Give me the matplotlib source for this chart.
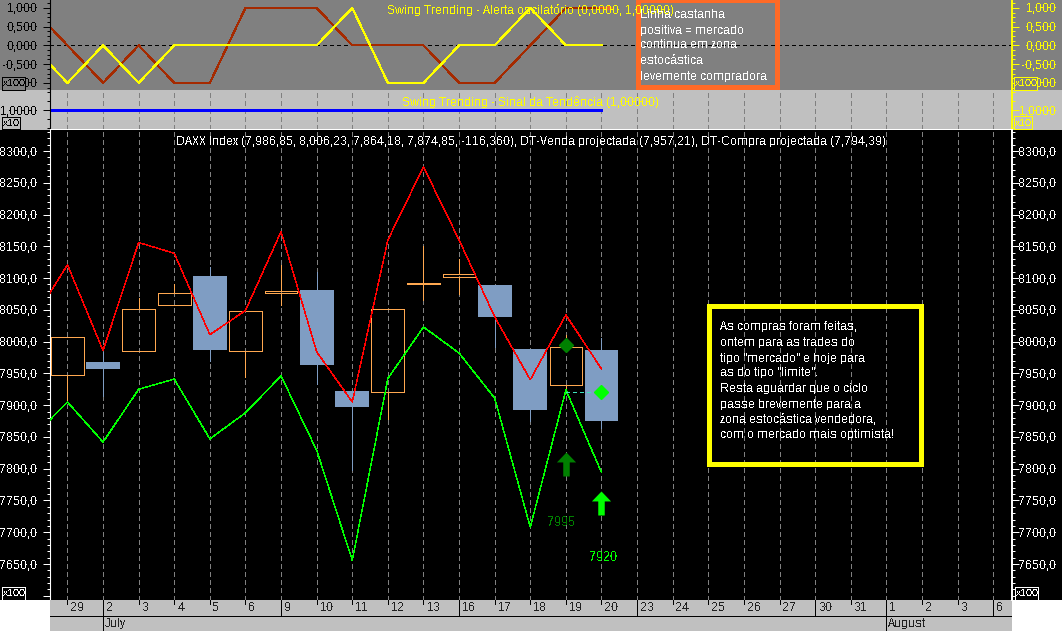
# swing trending chart for the DAXX index, three panels and a date strip
import numpy as np
import matplotlib
matplotlib.use("Agg")
import matplotlib.pyplot as plt
from matplotlib.patches import Rectangle
from matplotlib.path import Path
from matplotlib.ticker import FuncFormatter, MultipleLocator

plt.rcParams['font.family'] = ['Liberation Sans', 'DejaVu Sans']
plt.rcParams['text.antialiased'] = False
plt.rcParams['text.hinting'] = 'native'
plt.rcParams['text.hinting_factor'] = 1

W, H = 1062, 631

# sessions, the first point of each line sits just off the left edge
day_labels = ['29', '2', '3', '4', '5', '6', '9', '10', '11', '12', '13', '16', '17', '18',
              '19', '20', '23', '24', '25', '26', '27', '30', '31', '1', '2', '3', '6']
week_starts = [1, 6, 11, 16, 21, 26]
month_starts = [1, 23]
month_labels = ['July', 'August']

# candles
opens = [7947, 7968, 7985, 8057, 8103, 7986, 8077, 8081, 7922, 7921, 8090, 8101, 8089, 7988, 7932, 7987]
highs = [8008, 7984, 8068, 8090, 8117, 8048, 8121, 8110, 7922, 8052, 8151, 8130, 8089, 7988, 8010, 8006]
lows = [7905, 7915, 7985, 8057, 7970, 7945, 8058, 7933, 7798, 7878, 8065, 8075, 7992, 7875, 7924, 7864]
closes = [8008, 7957, 8051, 8076, 7987, 8048, 8080, 7963, 7897, 8052, 8093, 8106, 8039, 7892, 7991, 7875]

# projected sell / buy lines
line_days = np.arange(-1, 16)
venda = [8031, 8121, 7986, 8156, 8139, 8011, 8049, 8173, 7984, 7905, 8160, 8275, 8160, 8039, 7940, 8042, 7957]
compra = [7848, 7905, 7842, 7925, 7941, 7847, 7888, 7946, 7829, 7656, 7942, 8023, 7982, 7911, 7708, 7924, 7794]

# oscillator and trend signal
osc_yellow = [0, -1, 0, -1, 0, 0, 0, 0, 0, 1, -1, -1, 0, 0, 1, 0, 0]
osc_brown = [1, 0, -1, 0, -1, -1, 1, 1, 1, 0, 0, 0, -1, -1, 0, 1, 1]
signal = [1.0] * 17

# trade markers
marker_days = [14, 15]
marker_prices = [7995, 7920]
marker_colors = ['#008000', '#00ff00']
arrow_prices = [7807, 7746]
label_days = [13.86, 15.06]
label_prices = [7716, 7661]
label_texts = ['7995', '7920']

title_price = 'DAXX Index (7,986,85, 8,006,23, 7,864,18, 7,874,85, -116,360), DT-Venda projectada (7,957,21), DT-Compra projectada (7,794,39)'
title_osc = 'Swing Trending - Alerta oscilatório (0,0000, 1,00000)'
title_signal = 'Swing Trending - Sinal da Tendência (1,00000)'
note_orange = ['Linha castanha', 'positiva = mercado', 'continua em zona', 'estocástica', 'levemente compradora']
note_yellow = ['As compras foram feitas,', 'ontem para as trades do', 'tipo "mercado" e hoje para',
               'as do tipo "limite".', 'Resta aguardar que o ciclo', 'passe brevemente para a',
               'zona estocástica vendedora,', 'com o mercado mais optimista!']

FS = 8.6
PX = 0.72  # one pixel in points at dpi 100
THIN = 0.3  # aliased diagonals come out about one pixel wide with this
XLIM = (-0.49, 26.53)
GRID_LS = (0, (4.5, 3.5))


def px_axes(fig, x0, y0, x1, y1):
    return fig.add_axes([x0 / W, 1 - y1 / H, (x1 - x0) / W, (y1 - y0) / H])


def px_rect(fig, x0, y0, x1, y1, **kw):
    fig.add_artist(Rectangle((x0 / W, 1 - y1 / H), (x1 - x0) / W, (y1 - y0) / H,
                             transform=fig.transFigure, antialiased=False, **kw))


def px_text(fig, x, y, s, **kw):
    fig.text(x / W, 1 - y / H, s, va='center', **kw)


def style_panel(ax, ylim, major, minor, fmt, left_color, right_color, bg):
    # left axis comes from ax, right axis from a twin so both sides can differ
    ax.set_facecolor(bg)
    ax.set_xlim(XLIM)
    ax.set_ylim(ylim)
    ax2 = ax.twinx()
    ax2.set_ylim(ylim)
    for a, color, side in [(ax, left_color, 'left'), (ax2, right_color, 'right')]:
        a.yaxis.set_major_locator(major)
        a.yaxis.set_minor_locator(minor)
        a.yaxis.set_major_formatter(FuncFormatter(fmt))
        pad = 4.3 if side == 'left' else 27.4
        a.tick_params(axis='y', which='major', length=4.7, width=PX, color=color, labelcolor=color,
                      labelsize=FS, pad=pad)
        a.tick_params(axis='y', which='minor', length=2.2, width=PX, color=color)
        for s in a.spines.values():
            s.set_visible(False)
    # right hand labels end on a common edge in the original
    for lab in ax2.get_yticklabels():
        lab.set_horizontalalignment('right')
    ax.spines['left'].set_visible(True)
    ax.spines['left'].set_color(left_color)
    ax2.spines['right'].set_visible(True)
    ax2.spines['right'].set_color(right_color)
    ax2.spines['right'].set_linewidth(1.4)
    ax.tick_params(axis='x', which='both', bottom=False, labelbottom=False)
    ax2.tick_params(axis='x', which='both', bottom=False, labelbottom=False)
    return ax2


def scale_box(fig, x0, y0, x1, y1, s, color, bg):
    px_rect(fig, x0, y0, x1, y1, facecolor=bg, edgecolor=color, linewidth=PX, zorder=2)
    px_text(fig, (x0 + x1) / 2 + 0.5, (y0 + y1) / 2 + 0.5, s, color=color, fontsize=7.0, ha='center', zorder=3)


fig = plt.figure(figsize=(W / 100, H / 100), dpi=100, facecolor='white')

# margin colours either side of the panels
for x0, x1 in [(0, 50), (1012, W)]:
    px_rect(fig, x0, 0, x1, 90, facecolor='#808080', edgecolor='none', zorder=-1)
    px_rect(fig, x0, 90, x1, 130, facecolor='#c0c0c0', edgecolor='none', zorder=-1)
    px_rect(fig, x0, 130, x1, 600, facecolor='black', edgecolor='none', zorder=-1)

ax_osc = px_axes(fig, 50, 0, 1012, 90)
ax_sig = px_axes(fig, 50, 90, 1012, 129.5)
ax_price = px_axes(fig, 50, 130, 1012, 600)
ax_date = px_axes(fig, 50, 600, 1012, 631)

fmt_osc = lambda v, p: f'{v:.3f}'.replace('.', ',')
fmt_sig = lambda v, p: f'{v:.4f}'.replace('.', ',')
# the 7600 label has no room above the scale box
fmt_price = lambda v, p: f'{v:.1f}'.replace('.', ',') if v > 7620 else ''

# oscillator panel
style_panel(ax_osc, (-1.19, 1.21), MultipleLocator(0.5), MultipleLocator(0.125), fmt_osc, '#000000', '#ffff00', '#808080')
ax_osc.axhline(0, color='black', lw=PX, ls=(0, (4, 4)), antialiased=False)
ax_osc.plot(line_days, osc_brown, color='#a52a00', lw=0.8, antialiased=False)
ax_osc.plot(line_days, osc_yellow, color='#ffff00', lw=0.8, antialiased=False)
ax_osc.annotate('', xy=(15.33, 1), xytext=(14.9, 1),
                arrowprops=dict(arrowstyle='->', color='#ff6a26', lw=1.0, mutation_scale=7, shrinkA=0, shrinkB=0))
ax_osc.spines['bottom'].set_visible(True)
ax_osc.spines['bottom'].set_color('black')
ax_osc.spines['bottom'].set_linewidth(PX)

# trend signal panel
style_panel(ax_sig, (0.89, 1.1135), MultipleLocator(1.0), MultipleLocator(0.05), fmt_sig, '#000000', '#ffff00', '#c0c0c0')
ax_sig.vlines(np.arange(len(day_labels)), 0.89, 1.1135, color='#808080', lw=PX, ls=GRID_LS, antialiased=False)
ax_sig.plot(line_days, signal, color='#0000ff', lw=2.1, solid_capstyle='projecting', antialiased=False)
ax_sig.spines['bottom'].set_visible(True)
ax_sig.spines['bottom'].set_color('white')
ax_sig.spines['bottom'].set_linewidth(PX)

# price panel
style_panel(ax_price, (7593.4, 8333.05), MultipleLocator(50), MultipleLocator(10), fmt_price, 'white', 'white', 'black')
ax_price.vlines(np.arange(len(day_labels)), 7593.4, 8333.05, color='#808080', lw=PX, ls=GRID_LS, antialiased=False, zorder=1)

for i in range(len(opens)):
    o, h, l, c = opens[i], highs[i], lows[i], closes[i]
    top, bottom = max(o, c), min(o, c)
    if c < o:
        col = '#7f9dc3'
        ax_price.vlines(i, l, h, color=col, lw=PX, antialiased=False, zorder=2)
        ax_price.bar(i, top - bottom, bottom=bottom, width=0.95, color=col, antialiased=False, zorder=3)
    else:
        col = '#ffa850'
        ax_price.vlines(i, top, h, color=col, lw=PX, antialiased=False, zorder=2)
        ax_price.vlines(i, l, bottom, color=col, lw=PX, antialiased=False, zorder=2)
        ax_price.bar(i, top - bottom, bottom=bottom, width=0.92, facecolor='none', edgecolor=col,
                     lw=PX, antialiased=False, zorder=3)

ax_price.plot(line_days, venda, color='#ff0000', lw=THIN, zorder=4, antialiased=False)
ax_price.plot(line_days, compra, color='#00ff00', lw=THIN, zorder=4, antialiased=False)

# trade markers: entry diamonds, the dashed link, arrows and price labels
arrow = Path([(-0.27, -1), (0.27, -1), (0.27, 0.17), (0.8, 0.17), (0, 1), (-0.8, 0.17), (-0.27, 0.17), (-0.27, -1)], closed=True)
ax_price.plot(marker_days, [marker_prices[1], marker_prices[1]], color='#40e0c0', lw=PX, ls=(0, (4, 4)), zorder=4, antialiased=False)
for d, mp, ap, ld, lp, lt, col in zip(marker_days, marker_prices, arrow_prices, label_days, label_prices, label_texts, marker_colors):
    ax_price.plot(d, mp, marker='D', ms=7.2, color=col, mec=col, zorder=5, ls='none')
    ax_price.plot(d, ap, marker=arrow, ms=17.3, color=col, mec=col, mew=0, zorder=5, ls='none')
    ax_price.text(ld, lp, lt, color=col, fontsize=9, ha='center', va='center', zorder=5)

# date strip
ax_date.set_facecolor('#c0c0c0')
ax_date.set_xlim(XLIM)
ax_date.set_ylim(0, 1)
ax_date.set_xticks([])
ax_date.set_yticks([])
for s in ax_date.spines.values():
    s.set_visible(False)
ax_date.axhline(0.5, color='black', lw=PX, antialiased=False)
ax_date.vlines(np.arange(len(day_labels)), 0.87, 1, color='black', lw=PX, antialiased=False)
ax_date.vlines(week_starts, 0.5, 1, color='black', lw=PX, antialiased=False)
ax_date.vlines(month_starts, 0, 1, color='black', lw=PX, antialiased=False)
for i, lab in enumerate(day_labels):
    ax_date.annotate(lab, (i, 0.75), xytext=(2.2, 0), textcoords='offset points', color='#202020',
                     fontsize=FS, ha='left', va='center')
for d, lab in zip(month_starts, month_labels):
    ax_date.annotate(lab, (d, 0.24), xytext=(1.5, 0), textcoords='offset points', color='#202020',
                     fontsize=FS, ha='left', va='center')

# axis scale boxes
scale_box(fig, 2, 77, 25, 90, 'x100', '#000000', '#808080')
scale_box(fig, 2, 117, 20, 129, 'x10', '#000000', '#c0c0c0')
scale_box(fig, 2, 587, 25, 600, 'x100', 'white', 'black')
scale_box(fig, 1014, 77, 1037, 90, 'x100', '#ffff00', '#808080')
scale_box(fig, 1014, 116, 1032, 129, 'x10', '#ffff00', '#c0c0c0')
scale_box(fig, 1015, 587, 1038, 600, 'x100', 'white', 'black')

# panel titles
px_text(fig, 530.5, 10, title_osc, color='#ffff00', fontsize=8.8, ha='center')
px_text(fig, 530, 101.5, title_signal, color='#ffff00', fontsize=8.8, ha='center')
px_text(fig, 531, 141.5, title_price, color='white', fontsize=8.3, ha='center')

# orange note
px_rect(fig, 637.5, 0.5, 777.5, 86.5, facecolor='none', edgecolor='#ff6a26', linewidth=2.2, zorder=2)
for y, line in zip([14, 30, 45, 60, 76], note_orange):
    px_text(fig, 640, y, line, color='white', fontsize=8.9, ha='left')

# yellow note
px_rect(fig, 708.5, 305.5, 920.5, 463.5, facecolor='none', edgecolor='#ffff00', linewidth=3.6, zorder=2)
for y, line in zip([327, 343, 358, 373, 389, 404, 419, 435], note_yellow):
    px_text(fig, 720, y, line, color='white', fontsize=8.9, ha='left')

fig.savefig('out.png', dpi=100, facecolor='white')
